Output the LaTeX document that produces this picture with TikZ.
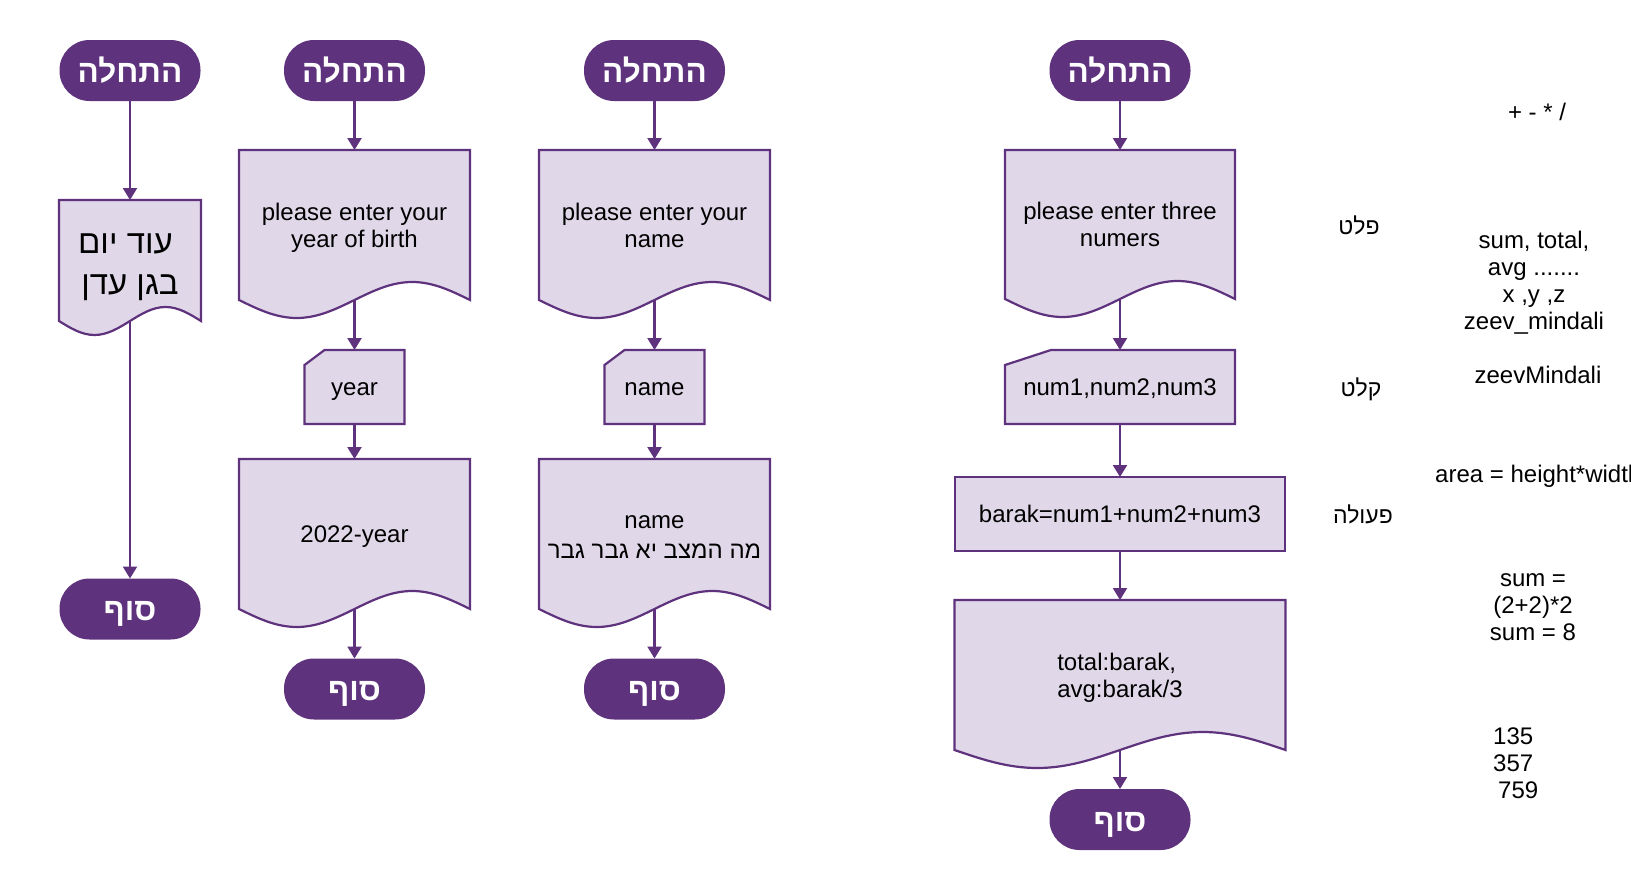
\documentclass[tikz,border=0pt]{standalone}
\usepackage{fontspec}
\setmainfont{Liberation Sans}
\newfontfamily\heb[Script=Hebrew]{Liberation Sans}
\TeXXeTstate=1
\usetikzlibrary{arrows.meta,backgrounds}
\definecolor{pdark}{RGB}{94,50,124}
\definecolor{plight}{RGB}{224,216,233}
\newcommand\hb[1]{{\heb\beginR #1\endR}}
\newcommand\docpath[3]{%
  \path[shapeline] (#1.south west) sin ++(#2/4,#3) cos ++(#2/4,-#3) sin ++(#2/4,-#3) cos ++(#2/4,#3) -- (#1.north east) -- (#1.north west) -- cycle;}
\newcommand\cardpath[3]{%
  \path[shapeline] ([yshift=-#3]#1.north west) -- ([xshift=#2]#1.north west) -- (#1.north east) -- (#1.south east) -- (#1.south west) -- cycle;}
\begin{document}
\begin{tikzpicture}[x=1pt,y=-1pt,
  shapeline/.style={draw=pdark, line width=2.2pt, fill=plight, line join=miter},
  term/.style={rectangle, rounded corners=30pt, fill=pdark, minimum width=141pt, minimum height=61pt, text=white, font=\heb\bfseries\fontsize{31.5}{36}\selectfont, text height=26pt, text depth=2.4pt, inner sep=0pt, outer sep=0pt},
  box/.style={rectangle, inner sep=0pt, outer sep=0pt, align=center, font=\fontsize{24}{27}\selectfont, text height=21pt, text depth=3.6pt},
  two/.style={text height=48pt, text depth=3.6pt},
  arr/.style={draw=pdark, line width=2.2pt, -{Triangle[width=14pt,length=12pt]}},
  lbl/.style={inner sep=0pt, align=center, font=\fontsize{24}{27}\selectfont},
  hlbl/.style={inner sep=0pt, font=\heb\fontsize{23}{27}\selectfont},
]
\useasboundingbox (0,0) rectangle (1631,870);
\clip (0,0) rectangle (1631,870);

% column 1
\node[term] (s1) at (130,70.5) {\hb{התחלה}};
\node[box, minimum width=142pt, minimum height=121pt, font=\heb\fontsize{33}{41}\selectfont, text height=71pt, text depth=2.6pt] (d1) at (130,260.5) {\hb{עוד יום}\hspace*{9pt}\\\hb{בגן עדן}};
\node[term] (e1) at (130,609) {\hb{סוף}};

% column 2
\node[term] (s2) at (354.5,70.5) {\hb{התחלה}};
\node[box, two, minimum width=231pt, minimum height=150pt] (d21) at (354.5,225) {please enter your\\year of birth};
\node[box, minimum width=100pt, minimum height=74pt] (i2) at (354.5,387) {year};
\node[box, minimum width=231pt, minimum height=150pt] (d22) at (354.5,534) {2022-year};
\node[term] (e2) at (354.5,689) {\hb{סוף}};

% column 3
\node[term] (s3) at (654.5,70.5) {\hb{התחלה}};
\node[box, two, minimum width=231pt, minimum height=150pt] (d31) at (654.5,225) {please enter your\\name};
\node[box, minimum width=100pt, minimum height=74pt] (i3) at (654.5,387) {name};
\node[box, minimum width=231pt, minimum height=150pt, text height=51pt, text depth=1.4pt] (d32) at (654.5,534) {name\\[3pt]\hb{מה המצב יא גבר גבר}};
\node[term] (e3) at (654.5,689) {\hb{סוף}};

% column 4
\node[term] (s4) at (1120,70.5) {\hb{התחלה}};
\node[box, two, minimum width=230pt, minimum height=149pt] (d41) at (1120,224.5) {please enter three\\numers};
\node[box, minimum width=230pt, minimum height=74pt] (i4) at (1120,387) {num1,num2,num3};
\node[box, minimum width=330pt, minimum height=74pt] (a4) at (1120,514) {barak=num1+num2+num3};
\node[box, two, minimum width=331pt, minimum height=150pt, align=left] (d43) at (1120,675) {total:barak,\\avg:barak/3};
\node[term] (e4) at (1120,819.5) {\hb{סוף}};

\begin{pgfonlayer}{background}
  \docpath{d1}{142}{14}
  \docpath{d21}{231}{18}
  \docpath{d22}{231}{18}
  \docpath{d31}{231}{18}
  \docpath{d32}{231}{18}
  \docpath{d41}{230}{18}
  \docpath{d43}{331}{18}
  \cardpath{i2}{20pt}{15pt}
  \cardpath{i3}{20pt}{15pt}
  \cardpath{i4}{46pt}{15pt}
  \path[shapeline] (a4.north west) rectangle (a4.south east);
\end{pgfonlayer}

% connectors
\draw[arr] (s1.south) -- (d1.north);
\draw[arr] (d1.south) -- (e1.north);
\draw[arr] (s2.south) -- (d21.north);
\draw[arr] (d21.south) -- (i2.north);
\draw[arr] (i2.south) -- (d22.north);
\draw[arr] (d22.south) -- (e2.north);
\draw[arr] (s3.south) -- (d31.north);
\draw[arr] (d31.south) -- (i3.north);
\draw[arr] (i3.south) -- (d32.north);
\draw[arr] (d32.south) -- (e3.north);
\draw[arr] (s4.south) -- (d41.north);
\draw[arr] (d41.south) -- (i4.north);
\draw[arr] (i4.south) -- (a4.north);
\draw[arr] (a4.south) -- (d43.north);
\draw[arr] (d43.south) -- (e4.north);

% side notes
\node[hlbl] (l1) at (1359,225) {\hb{פלט}};
\node[hlbl] (l2) at (1361,389) {\hb{קלט}};
\node[hlbl] (l3) at (1363,514) {\hb{פעולה}};
\node[lbl] (n1) at (1537,112) {+ - * /};
\node[lbl] (n2) at (1534,283) {sum, total,\\avg .......\\x ,y ,z\hspace*{5pt}\\zeev\_mindali};
\node[lbl] (n3) at (1538,375) {zeevMindali};
\node[lbl, anchor=west] (n4) at (1435,476) {area = height*width};
\node[lbl] (n5) at (1533,607) {sum =\\(2+2)*2\\sum = 8};
\node[lbl, anchor=west, align=left] (n6) at (1493,763) {135\\357\\\hspace*{5pt}759};
\end{tikzpicture}
\end{document}
